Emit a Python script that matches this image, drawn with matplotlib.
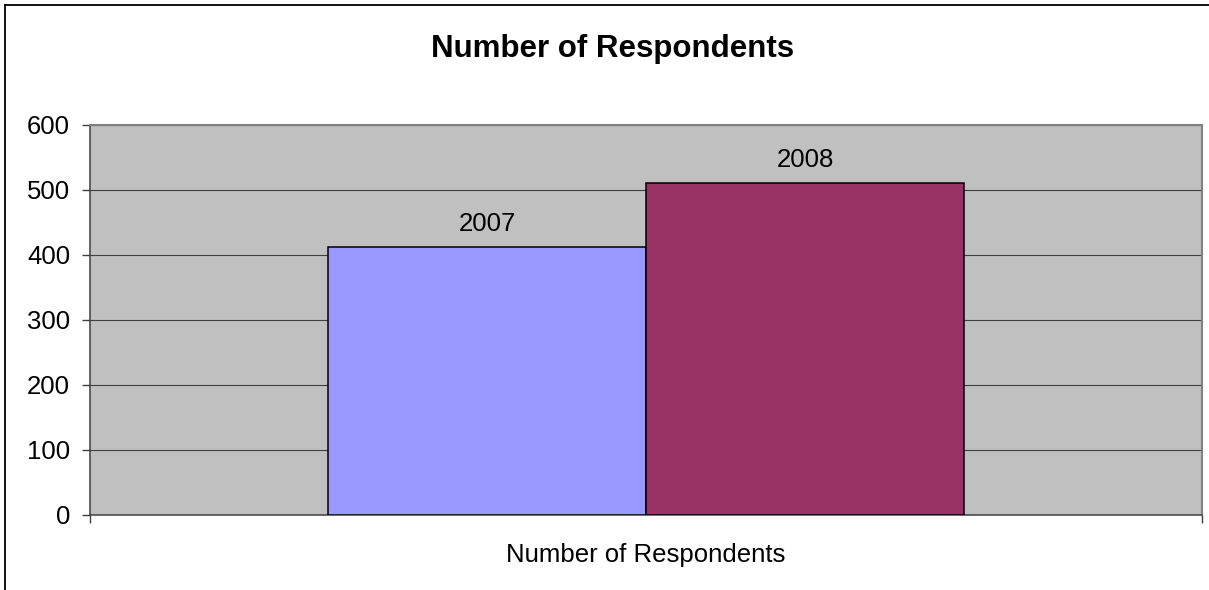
import matplotlib
matplotlib.use("Agg")
import matplotlib.pyplot as plt
from matplotlib.lines import Line2D

plt.rcParams['font.family'] = ['Liberation Sans', 'DejaVu Sans']

# Survey response counts per year
years = ["2007", "2008"]
respondents = [412, 511]
bar_colors = ["#9999FF", "#993366"]
category = "Number of Respondents"
title = "Number of Respondents"
y_ticks = [0, 100, 200, 300, 400, 500, 600]

fig = plt.figure(figsize=(12.09, 5.90), dpi=100)
fig.patch.set_facecolor("white")
ax = fig.add_axes([90 / 1209, 1 - 514.5 / 590, 1112 / 1209, 389.5 / 590])
ax.set_facecolor("#C0C0C0")

bar_w = 0.286
offsets = [-bar_w / 2, bar_w / 2]
for off, yr, val, col in zip(offsets, years, respondents, bar_colors):
    ax.bar(off, val, width=bar_w, color=col, edgecolor="black", linewidth=1.1, zorder=3)
    ax.annotate(yr, xy=(off, val), xytext=(0, 11.5), textcoords="offset points",
                ha="center", va="baseline", fontsize=18.5, color="black", zorder=4)

ax.set_xlim(-0.5, 0.5)
ax.set_ylim(0, 600)
ax.set_yticks(y_ticks)
ax.set_yticklabels([str(t) for t in y_ticks], fontsize=18.5)
ax.set_xticks([-0.5, 0.5])
ax.set_xticklabels([])
ax.tick_params(axis="y", direction="out", length=5.8, width=1, color="#404040", pad=8.5)
ax.tick_params(axis="x", direction="out", length=6, width=1, color="#404040")
ax.yaxis.grid(True, color="#404040", linewidth=0.8, zorder=1)
ax.set_axisbelow(True)

for side in ("top", "right"):
    ax.spines[side].set_color("#808080")
    ax.spines[side].set_linewidth(1.5)
for side in ("left", "bottom"):
    ax.spines[side].set_color("#404040")
    ax.spines[side].set_linewidth(1.1)

ax.annotate(category, xy=(0.5, 0), xycoords="axes fraction", xytext=(0, -34),
            textcoords="offset points", ha="center", va="baseline", fontsize=18.5)

fig.text(613 / 1209, 1 - 56.7 / 590, title, ha="center", va="baseline",
         fontsize=22.5, fontweight="bold")

# Chart frame (left and top edges visible)
fig.add_artist(Line2D([5 / 1209, 5 / 1209], [0, 1 - 5 / 590], transform=fig.transFigure,
                      color="black", linewidth=1.3))
fig.add_artist(Line2D([5 / 1209, 1], [1 - 5 / 590, 1 - 5 / 590], transform=fig.transFigure,
                      color="black", linewidth=1.3))

fig.savefig("out.png", dpi=100, facecolor="white")
